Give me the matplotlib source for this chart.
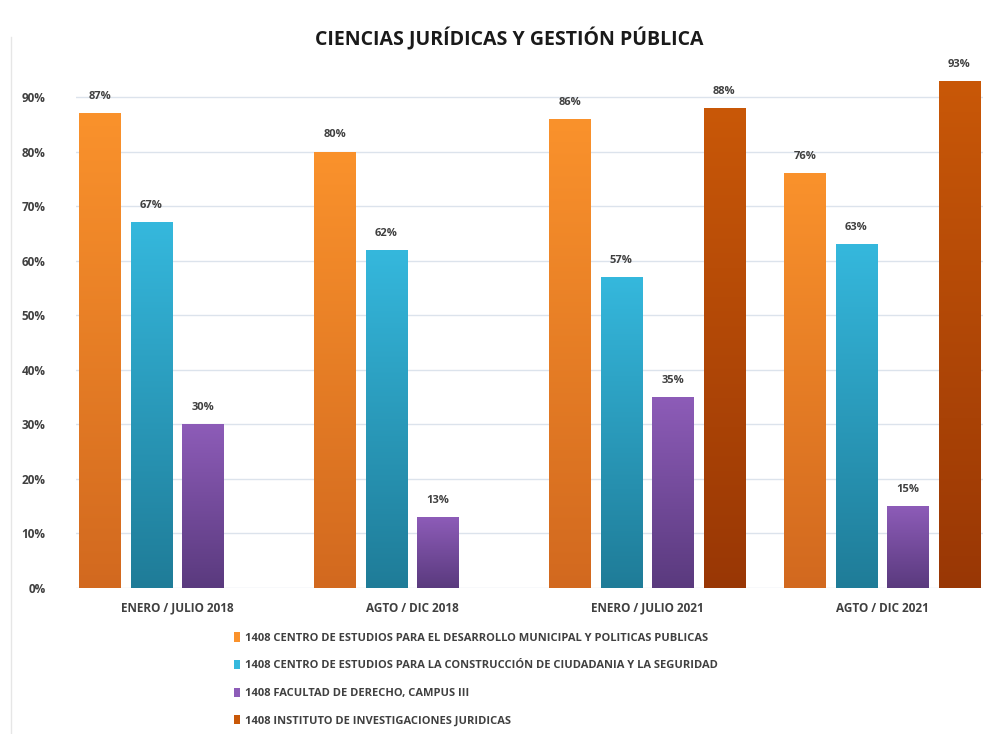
import matplotlib
matplotlib.use('Agg')
import matplotlib.pyplot as plt
import numpy as np
from matplotlib.colors import LinearSegmentedColormap
from matplotlib.patches import Patch

plt.rcParams['font.family'] = ['Open Sans', 'DejaVu Sans']

periodos = ['ENERO / JULIO 2018', 'AGTO / DIC 2018', 'ENERO / JULIO 2021', 'AGTO / DIC 2021']
series = [
    '1408 CENTRO DE ESTUDIOS PARA EL DESARROLLO MUNICIPAL Y POLITICAS PUBLICAS',
    '1408 CENTRO DE ESTUDIOS PARA LA CONSTRUCCIÓN DE CIUDADANIA Y LA SEGURIDAD',
    '1408 FACULTAD DE DERECHO, CAMPUS III',
    '1408 INSTITUTO DE INVESTIGACIONES JURIDICAS',
]
desarrollo = [0.87, 0.80, 0.86, 0.76]
ciudadania = [0.67, 0.62, 0.57, 0.63]
derecho = [0.30, 0.13, 0.35, 0.15]
investigaciones = [np.nan, np.nan, 0.88, 0.93]
valores = [desarrollo, ciudadania, derecho, investigaciones]

# colores (arriba, abajo) para el degradado
colores = [('#FA922C', '#D2691F'), ('#35B8DD', '#1F7C98'),
           ('#8D5CB8', '#5A3A7E'), ('#C95808', '#993705')]

fig = plt.figure(figsize=(10.08, 7.34), dpi=100)
ax = fig.add_axes([0.0754, 0.199, 0.9, 0.706])

x = np.arange(len(periodos))
paso = 0.219
ancho = 0.175
for i, (vals, (c_top, c_bot)) in enumerate(zip(valores, colores)):
    pos = x + (i - 1.5) * paso
    bars = ax.bar(pos, vals, width=ancho, color='none', edgecolor='none', zorder=3)
    cmap = LinearSegmentedColormap.from_list('g%d' % i, [c_bot, c_top])
    grad = np.linspace(0, 1, 256).reshape(-1, 1)
    for b, v in zip(bars, vals):
        if np.isnan(v):
            continue
        bx, bw, bh = b.get_x(), b.get_width(), b.get_height()
        im = ax.imshow(grad, cmap=cmap, origin='lower', aspect='auto',
                       extent=[bx, bx + bw, 0, bh], zorder=3)
        im.set_clip_path(b)
        ax.annotate('%d%%' % round(v * 100), (bx + bw / 2, bh), xytext=(0, 8),
                    textcoords='offset points', ha='center', va='bottom',
                    fontsize=8, fontweight='bold', color='#404040')

ax.set_xlim(-0.43, 3.43)
ax.set_ylim(0, 0.95)
ax.set_yticks(np.arange(0, 0.91, 0.1))
ax.set_yticklabels(['%d%%' % t for t in range(0, 91, 10)], fontsize=8.5,
                   fontweight='bold', color='#404040')
ax.set_xticks(x)
ax.set_xticklabels(periodos, fontsize=8.5, fontweight='bold', color='#404040')
ax.tick_params(length=0, axis='y', pad=22)
ax.tick_params(length=0, axis='x', pad=10)
ax.grid(axis='y', color='#DCE3EC', linewidth=1, zorder=0)
for s in ax.spines.values():
    s.set_visible(False)

fig.suptitle('CIENCIAS JURÍDICAS Y GESTIÓN PÚBLICA', x=0.505, y=0.963,
             fontsize=14, fontweight='bold', color='#1a1a1a')

handles = [Patch(facecolor=c[0]) for c in colores]
leg = fig.legend(handles, series, loc='upper left', bbox_to_anchor=(0.222, 0.152),
                 frameon=False, handlelength=0.6, handleheight=0.9,
                 handletextpad=0.4, labelspacing=1.45,
                 prop={'size': 8, 'weight': 'bold'})
for t in leg.get_texts():
    t.set_color('#404040')

fig.add_artist(plt.Line2D([0.011, 0.011], [0.0, 0.95], color='#E6E6E6', lw=1))

fig.savefig('out.png', dpi=100)
